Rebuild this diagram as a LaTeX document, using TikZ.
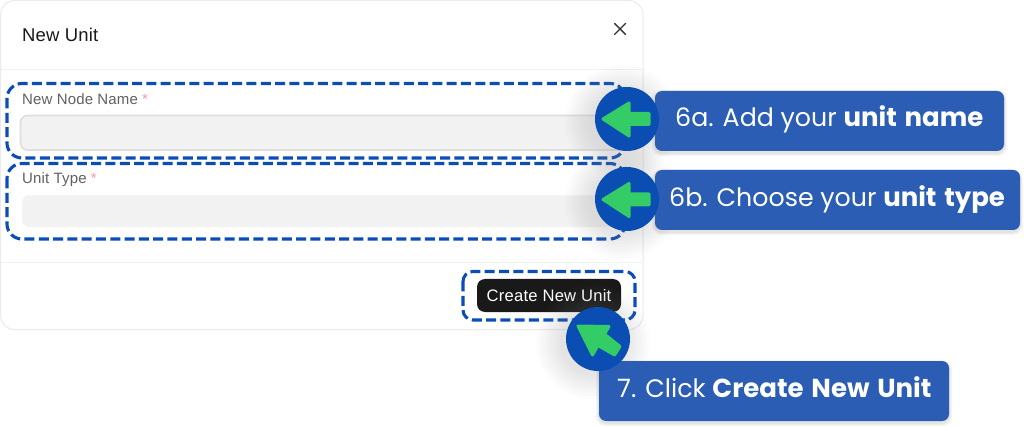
\documentclass[tikz,border=0pt]{standalone}
\usepackage{fontspec}
\setmainfont{Liberation Sans}
\newfontfamily\pop{Poppins}
\usetikzlibrary{calc}
\definecolor{dashblue}{HTML}{0A4DB8}
\definecolor{callblue}{HTML}{2A5DB3}
\definecolor{circblue}{HTML}{0A4DB3}
\definecolor{arrowgreen}{HTML}{33CC66}
\newcommand{\boldpart}[1]{{\bfseries\fontsize{26}{30}\selectfont #1}}
\newcommand{\widegap}{\hspace{2.3pt}}
\tikzset{
  x=1pt,y=-1pt,
  card/.style={draw=black!8,line width=1pt,fill=white,rounded corners=14pt},
  divider/.style={draw=black!5,line width=1pt},
  dashbox/.style={draw=dashblue,line width=3.1pt,rounded corners=15pt,dash pattern=on 10pt off 4.3pt},
  inputbox/.style={fill=black!5,rounded corners=7pt},
  callout/.style={fill=callblue,rounded corners=7pt},
  calloutshadow/.style={fill=black,opacity=0.035,rounded corners=9pt},
  calltext/.style={text=white,font=\pop\fontsize{25.3}{30}\selectfont,anchor=base west,inner sep=0pt},
  label/.style={text=black!62,font=\fontsize{15}{17}\selectfont\addfontfeature{LetterSpace=1},anchor=base west,inner sep=0pt},
  greenarrow/.style={fill=arrowgreen,draw=arrowgreen,line width=3pt,line join=round},
}
\newcommand{\softshadow}[2]{%
  \foreach \r in {33,36,...,57}{\fill[black!45,opacity=0.022] (#1-5,#2+3) circle[radius=\r];}%
}
\newcommand{\boxshadow}[4]{%
  \foreach \g in {1,2,3}{\fill[calloutshadow] (#1-\g,#2+2-\g) rectangle (#3+\g,#4+2+\g);}%
}
\begin{document}
\begin{tikzpicture}
\useasboundingbox (0,0) rectangle (1024,427);
\fill[white] (0,0) rectangle (1024,427);
% dialog
\draw[card] (0.5,0.5) rectangle (643,329.5);
\draw[divider] (1,69.5) -- (642,69.5);
\draw[divider] (1,262.5) -- (642,262.5);
\node[anchor=base west,inner sep=0pt,text=black!90,font=\fontsize{18.5}{20}\selectfont\addfontfeature{LetterSpace=1}] (title) at (22,42) {New Unit};
\draw[black!80,line width=1.4pt,line cap=round] (614.5,23.5) -- (625.5,34.5) (625.5,23.5) -- (614.5,34.5);
% fields
\node[label] (lab1) at (22,104.5) {New Node Name \textcolor{red!40}{*}};
\draw[inputbox,draw=black!13,line width=1.6pt] (20.5,115.5) rectangle (625,150);
\node[label] (lab2) at (22,183.5) {Unit Type \textcolor{red!40}{*}};
\fill[inputbox] (22,195.5) rectangle (625,227);
% button
\fill[black!90,rounded corners=8pt] (477,279) rectangle (621,312);
\node[text=white,font=\fontsize{16.6}{18}\selectfont\addfontfeature{LetterSpace=1.5},inner sep=0pt] (btn) at (549,295.5) {Create New Unit};
% dashed frames
\draw[dashbox] (7,83.5) rectangle (625,158);
\draw[dashbox] (7,163.5) rectangle (625,239);
\draw[dashbox,rounded corners=10pt] (463,271.5) rectangle (635,320);
% shadows
\softshadow{627}{119}
\softshadow{627}{199}
\softshadow{598}{339}
% callouts
\boxshadow{655}{91}{1004}{151}
\boxshadow{655}{170}{1020}{230}
\boxshadow{599}{361}{949}{421}
\fill[callout] (655,91) rectangle (1004,151);
\fill[callout] (655,170) rectangle (1020,230);
\fill[callout] (599,361) rectangle (949,421);
\node[calltext] (t1) at (675,127) {6a. Add your \boldpart{unit\widegap{} name}};
\node[calltext] (t2) at (669,206.5) {6b. Choose your \boldpart{unit\widegap{} type}};
\node[calltext] (t3) at (617,397) {7. Click \boldpart{Create\widegap{} New\widegap{} Unit}};
% circles
\fill[circblue] (627,119) circle[radius=32];
\fill[circblue] (627,199) circle[radius=32];
\fill[circblue] (598,339) circle[radius=32];
% arrows
\path[greenarrow] (603,119) -- (629,103) -- (629,113.5) -- (649,113.5) -- (649,124.5) -- (629,124.5) -- (629,136) -- cycle;
\path[greenarrow] (603,199.5) -- (629,183.5) -- (629,194) -- (649,194) -- (649,205) -- (629,205) -- (629,216.5) -- cycle;
\path[greenarrow] (578,326) -- (609,326.5) -- (604.5,334) -- (620,346.5) -- (614.5,355) -- (598,345.5) -- (592.5,355) -- cycle;
\end{tikzpicture}
\end{document}
